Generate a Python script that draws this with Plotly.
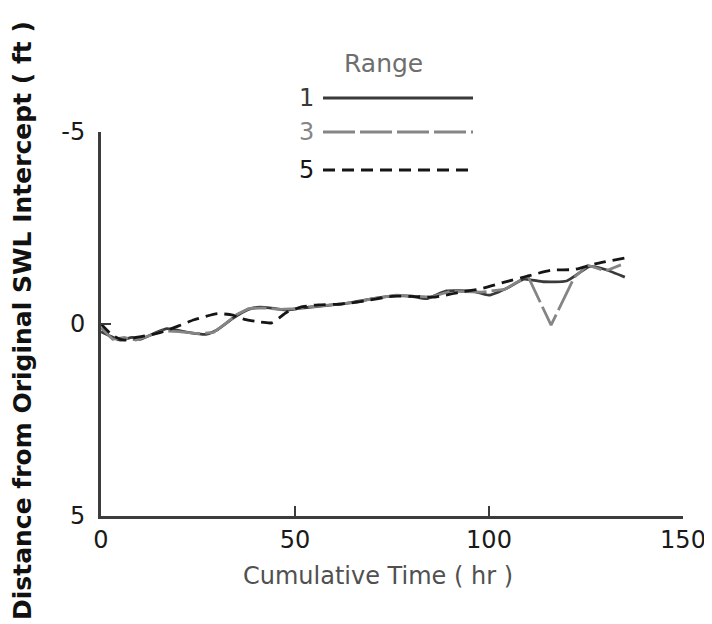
import plotly.graph_objects as go

# values (time in hr, distance in ft; negative = landward/up)
range1_time = [0, 2, 5, 8, 10, 14, 17, 22, 27, 30, 34, 38, 41, 45, 48, 52, 58, 64, 70, 76,
               80, 84, 89, 96, 100, 105, 109, 114, 120, 126, 130, 135]
range1_dist = [0.2, 0.3, 0.42, 0.35, 0.4, 0.23, 0.12, 0.21, 0.27, 0.15, -0.15, -0.38, -0.44, -0.4,
               -0.36, -0.42, -0.48, -0.55, -0.66, -0.74, -0.72, -0.66, -0.86, -0.85, -0.75, -0.95,
               -1.17, -1.1, -1.12, -1.5, -1.42, -1.22]

range3_time = [0, 3, 6, 9, 12, 16, 20, 25, 29, 32, 35, 38, 42, 46, 50, 55, 60, 66, 70, 76,
               80, 85, 90, 98, 104, 110, 116, 122, 125.5, 130, 134]
range3_dist = [0.1, 0.4, 0.35, 0.42, 0.32, 0.18, 0.2, 0.25, 0.22, 0.0, -0.25, -0.4, -0.42, -0.38,
               -0.4, -0.45, -0.5, -0.57, -0.66, -0.75, -0.73, -0.7, -0.85, -0.83, -0.9, -1.25,
               0.03, -1.22, -1.53, -1.38, -1.54]

range5_time = [0, 3, 6, 9, 12, 16, 20, 24, 30, 34, 37, 41, 44, 48, 52, 56, 62, 68, 75, 80,
               86, 92, 98, 104, 110, 116, 122, 128, 136]
range5_dist = [0.0, 0.3, 0.42, 0.35, 0.3, 0.2, 0.05, -0.11, -0.27, -0.23, -0.12, -0.05, -0.03,
               -0.31, -0.45, -0.5, -0.52, -0.6, -0.72, -0.72, -0.7, -0.82, -0.92, -1.09, -1.25,
               -1.4, -1.42, -1.58, -1.74]

x_ticks = [0, 50, 100, 150]
y_ticks = [-5, 0, 5]
y_tick_text = ["-5", "0", "5"]
legend_labels = ["1", "3", "5"]

FONT = "DejaVu Sans"
AXIS = "#3c3c3c"
styles = [
    dict(color="#3a3a3a", dash="solid", shape="spline"),
    dict(color="#858585", dash="32px,5px", shape="linear"),
    dict(color="#151515", dash="12px,7px", shape="spline"),
]

# plot box in pixels (used only to place the hand-made legend and titles)
L, R, T, B = 93, 675, 124, 508
px = lambda v: (v - L) / (R - L)
py = lambda v: (B - v) / (B - T)

fig = go.Figure()
for (t, d), st, name in zip([(range1_time, range1_dist), (range3_time, range3_dist),
                            (range5_time, range5_dist)], styles, legend_labels):
    fig.add_trace(go.Scatter(x=t, y=d, mode="lines", name=name,
                             line=dict(color=st["color"], dash=st["dash"], width=2.8,
                                       shape=st["shape"], smoothing=0.5)))


def note(text, x, y, size, color, **kw):
    return dict(text=text, x=px(x), y=py(y), xref="paper", yref="paper", showarrow=False,
                xanchor="center", yanchor="middle",
                font=dict(family=FONT, size=size, color=color), **kw)


# legend drawn like the original: number, then line sample
annotations = [note("Range", 375, 55, 25, "#6e6e6e")]
shapes = []
for row_y, lab, st in zip([90, 124, 162], legend_labels, styles):
    annotations.append(note(lab, 298, row_y, 24, st["color"]))
    shapes.append(dict(type="line", xref="paper", yref="paper",
                       x0=px(315), x1=px(465), y0=py(row_y), y1=py(row_y),
                       line=dict(color=st["color"], dash=st["dash"], width=3)))

annotations.append(note("Cumulative Time ( hr )", 370, 568, 24, "#505050"))
ytitle = note("Distance from Original SWL Intercept ( ft )", 14, 313, 25, "#111", textangle=-90)
ytitle["font"]["weight"] = "bold"
annotations.append(ytitle)

axis_common = dict(showgrid=False, zeroline=False, showline=True, linewidth=3,
                   linecolor=AXIS, ticks="inside", ticklen=10, tickwidth=2,
                   tickcolor=AXIS, tickfont=dict(family=FONT, size=24, color="#1a1a1a"))

fig.update_layout(
    width=712, height=624,
    margin=dict(l=L, r=712 - R, t=T, b=624 - B),
    plot_bgcolor="white", paper_bgcolor="white",
    showlegend=False,
    annotations=annotations, shapes=shapes,
    xaxis=dict(range=[0, 150], tickvals=x_ticks, ticklabelstandoff=0, **axis_common),
    yaxis=dict(range=[5, -5], tickvals=y_ticks, ticktext=y_tick_text,
               ticklabelstandoff=8, **axis_common),
)

fig.write_html("out.html")
